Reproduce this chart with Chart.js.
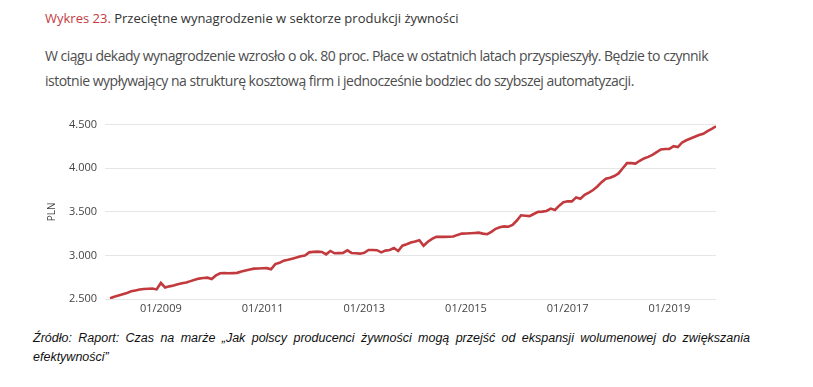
<!DOCTYPE html>
<html lang="pl">
<head>
<meta charset="utf-8">
<script src="https://cdn.jsdelivr.net/npm/chart.js@4"></script>
<style>
  html, body { margin: 0; padding: 0; background: #fff; }
  body { width: 813px; height: 387px; position: relative; overflow: hidden; font-family: "Open Sans", sans-serif; }
  #title { position: absolute; left: 45px; top: 9px; font-size: 13px; color: #333; white-space: nowrap; }
  #title span { color: #c53a3f; }
  #lead { position: absolute; left: 45px; top: 43px; font-size: 14px; letter-spacing: -0.5px; line-height: 25px; color: #4d4d4d; white-space: nowrap; }
  #wrap { position: absolute; left: 30px; top: 110px; width: 686px; height: 210px; }
  #source { position: absolute; left: 33px; top: 329px; width: 717px; font-family: "Liberation Sans", Arial, sans-serif; font-style: italic; font-size: 12.5px; line-height: 19px; color: #111; }
  #source .l1 { text-align: justify; text-align-last: justify; }
</style>
</head>
<body>
<div id="title"><span>Wykres 23.</span> Przeciętne wynagrodzenie w sektorze produkcji żywności</div>
<div id="lead">W ciągu dekady wynagrodzenie wzrosło o ok. 80 proc. Płace w ostatnich latach przyspieszyły. Będzie to czynnik<br>istotnie wypływający na strukturę kosztową firm i jednocześnie bodziec do szybszej automatyzacji.</div>
<div id="wrap"><canvas id="chart"></canvas></div>
<div id="source">
  <div class="l1">Źródło: Raport: Czas na marże „Jak polscy producenci żywności mogą przejść od ekspansji wolumenowej do zwiększania</div>
  <div>efektywności”</div>
</div>
<script>
  // monthly series, 01/2008 .. 12/2019
  const YEARS = [2008, 2009, 2010, 2011, 2012, 2013, 2014, 2015, 2016, 2017, 2018, 2019];
  const MONTHS = ["01", "02", "03", "04", "05", "06", "07", "08", "09", "10", "11", "12"];
  const TICK_LABELS = ["01/2009", "01/2011", "01/2013", "01/2015", "01/2017", "01/2019"];
  const Y_TICKS = [2500, 3000, 3500, 4000, 4500];

  const WAGES = [
    2508, 2525, 2540, 2555, 2570, 2588, 2598, 2608, 2615, 2618, 2621, 2610,
    2684, 2632, 2645, 2655, 2668, 2680, 2690, 2705, 2720, 2734, 2740, 2745,
    2730, 2770, 2795, 2797, 2795, 2797, 2800, 2815, 2828, 2838, 2848, 2850,
    2852, 2854, 2840, 2900, 2915, 2940, 2950, 2962, 2975, 2990, 2998, 3035,
    3040, 3043, 3040, 3012, 3051, 3024, 3026, 3028, 3058, 3028, 3024, 3020,
    3030, 3062, 3062, 3060, 3035, 3055, 3062, 3085, 3051, 3111, 3128, 3148,
    3160, 3175, 3111, 3156, 3190, 3213, 3213, 3213, 3214, 3216, 3235, 3250,
    3252, 3254, 3257, 3261, 3250, 3243, 3270, 3305, 3322, 3333, 3329, 3350,
    3400, 3460, 3455, 3450, 3475, 3499, 3502, 3510, 3537, 3521, 3570, 3610,
    3620, 3620, 3665, 3650, 3695, 3720, 3750, 3790, 3840, 3880, 3890, 3910,
    3940, 4000, 4058, 4058, 4053, 4085, 4112, 4130, 4152, 4185, 4215, 4220,
    4222, 4253, 4242, 4295, 4320, 4340, 4360, 4380, 4395, 4425, 4450, 4480
  ];

  const labels = [];
  YEARS.forEach((y) => MONTHS.forEach((m) => labels.push(m + "/" + y)));

  const GRID = "#e6e6e6";
  const TICK_FONT = { family: "Open Sans", size: 11 };

  function fmt(v) {
    return String(v).replace(/\B(?=(\d{3})+(?!\d))/g, ".");
  }

  new Chart(document.getElementById("chart"), {
    type: "line",
    data: {
      labels: labels,
      datasets: [{
        data: WAGES,
        borderColor: "#c23a3d",
        borderWidth: 2.6,
        pointRadius: 0,
        tension: 0,
        fill: false
      }]
    },
    options: {
      responsive: true,
      maintainAspectRatio: false,
      animation: false,
      layout: { padding: { top: 12, left: 0, right: 0, bottom: 0 } },
      plugins: { legend: { display: false }, tooltip: { enabled: false } },
      scales: {
        x: {
          offset: false,
          border: { display: false },
          grid: {
            tickLength: 0,
            color: (ctx) => (ctx.tick && TICK_LABELS.includes(labels[ctx.index]) ? GRID : "rgba(0,0,0,0)")
          },
          ticks: {
            autoSkip: false,
            maxRotation: 0,
            minRotation: 0,
            padding: 3,
            color: "#444",
            font: TICK_FONT,
            callback: (v, i) => (TICK_LABELS.includes(labels[i]) ? labels[i] : null)
          },
          afterFit: (s) => { s.height = 21; }
        },
        y: {
          min: 2500,
          max: 4500,
          border: { display: false },
          afterBuildTicks: (s) => { s.ticks = Y_TICKS.map((v) => ({ value: v })); },
          grid: { color: GRID, tickLength: 5 },
          ticks: { padding: 8, color: "#444", font: TICK_FONT, callback: (v) => fmt(v) },
          title: { display: true, text: "PLN", color: "#444", font: { family: "Open Sans", size: 10 }, padding: { top: 16, bottom: 0 } },
          afterFit: (s) => { s.width = 80; }
        }
      }
    }
  });
</script>
</body>
</html>
